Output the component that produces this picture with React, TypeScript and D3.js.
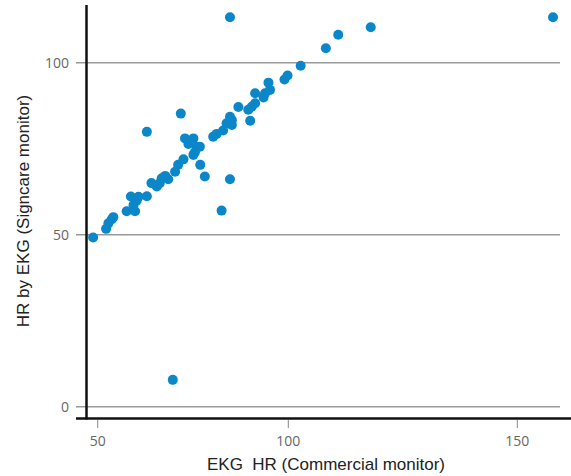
import React, { useEffect, useRef } from "react";
import * as d3 from "d3";

// HR from the commercial monitor (x) and the Signcare monitor (y)
const commercialHR = [
  48.8, 52.2, 52.8, 53.7, 54.1, 57.6, 58.7, 59.8, 60.7, 60.2, 59.4, 62.9, 62.9, 64.1, 65.5, 66.3, 66.8, 67.7,
  68.5, 70.3, 71.1, 72.5, 71.8, 72.9, 75.1, 73.8, 76.0, 76.8, 75.5, 75.1, 76.9, 78.1, 80.3, 81.2, 82.9, 83.8,
  84.7, 85.2, 85.2, 84.7, 82.5, 86.9, 89.5, 90.4, 91.3, 90.0, 91.3, 93.5, 93.9, 95.2, 94.8, 99.0, 99.8, 102.7,
  108.2, 110.9, 118.0, 157.8, 84.7, 69.7,
];
const signcareHR = [
  49.2, 51.7, 53.3, 54.5, 55.1, 56.8, 61.1, 56.8, 61.0, 59.9, 58.6, 61.2, 79.9, 65.0, 64.0, 65.0, 66.4, 67.1,
  66.1, 68.3, 70.3, 71.9, 85.2, 78.0, 78.0, 76.4, 75.6, 75.6, 74.0, 73.2, 70.3, 66.9, 78.5, 79.3, 80.3, 82.4,
  84.3, 83.3, 81.9, 66.1, 57.0, 87.1, 86.3, 87.2, 88.2, 83.1, 91.1, 89.9, 91.1, 92.1, 94.2, 95.1, 96.3, 99.1,
  104.2, 108.1, 110.3, 113.2, 113.2, 7.8,
];
const xTicks = [50, 100, 150];
const yTicks = [0, 50, 100];

const App = () => {
  const ref = useRef(null);

  useEffect(() => {
    const svg = d3.select(ref.current);
    svg.selectAll("*").remove();

    const width = 571;
    const height = 476;
    svg.attr("width", width).attr("height", height);

    // the original axis is not evenly spaced, so map it piecewise
    const xScale = d3.scaleLinear().domain([50, 100, 150]).range([97.7, 288.3, 517.3]);
    const yScale = d3.scaleLinear().domain([0, 100]).range([406.7, 62.7]);

    const tickFont = "'Open Sans', sans-serif";
    const titleFont = "'Liberation Sans', Arial, sans-serif";

    // horizontal grid lines + y labels
    const yg = svg.append("g");
    yg.selectAll("line")
      .data(yTicks)
      .join("line")
      .attr("x1", 76)
      .attr("x2", 560)
      .attr("y1", (d) => yScale(d))
      .attr("y2", (d) => yScale(d))
      .attr("stroke", "#999")
      .attr("stroke-width", 1.5);
    yg.selectAll("text")
      .data(yTicks)
      .join("text")
      .attr("x", 69)
      .attr("y", (d) => yScale(d))
      .attr("dy", "0.35em")
      .attr("text-anchor", "end")
      .attr("font-family", tickFont)
      .attr("font-size", 14)
      .attr("fill", "#666")
      .text((d) => d);

    // x ticks
    const xg = svg.append("g");
    xg.selectAll("line")
      .data(xTicks)
      .join("line")
      .attr("x1", (d) => xScale(d))
      .attr("x2", (d) => xScale(d))
      .attr("y1", 420)
      .attr("y2", 428)
      .attr("stroke", "#888")
      .attr("stroke-width", 1);
    xg.selectAll("text")
      .data(xTicks)
      .join("text")
      .attr("x", (d) => xScale(d))
      .attr("y", 446)
      .attr("text-anchor", "middle")
      .attr("font-family", tickFont)
      .attr("font-size", 14)
      .attr("fill", "#666")
      .text((d) => d);

    // axis lines
    svg.append("line").attr("x1", 76).attr("x2", width).attr("y1", 418.5).attr("y2", 418.5)
      .attr("stroke", "#111").attr("stroke-width", 2.5);
    svg.append("line").attr("x1", 86.5).attr("x2", 86.5).attr("y1", 5).attr("y2", 419.5)
      .attr("stroke", "#111").attr("stroke-width", 2.5);

    // points
    const points = commercialHR.map((x, i) => ({ x, y: signcareHR[i] }));
    svg.append("g")
      .selectAll("circle")
      .data(points)
      .join("circle")
      .attr("cx", (d) => xScale(d.x))
      .attr("cy", (d) => yScale(d.y))
      .attr("r", 5)
      .attr("fill", "#0b87c9");

    // titles
    svg.append("text")
      .attr("x", 326)
      .attr("y", 470)
      .attr("text-anchor", "middle")
      .attr("font-family", titleFont)
      .attr("font-size", 17)
      .attr("fill", "#222")
      .style("white-space", "pre")
      .text("EKG  HR (Commercial monitor)");

    svg.append("text")
      .attr("transform", "translate(29,211) rotate(-90)")
      .attr("text-anchor", "middle")
      .attr("font-family", titleFont)
      .attr("font-size", 17)
      .attr("fill", "#222")
      .text("HR by EKG (Signcare monitor)");
  }, []);

  return <svg ref={ref} style={{ position: "absolute", left: 0, top: 0 }}></svg>;
};

export default App;
